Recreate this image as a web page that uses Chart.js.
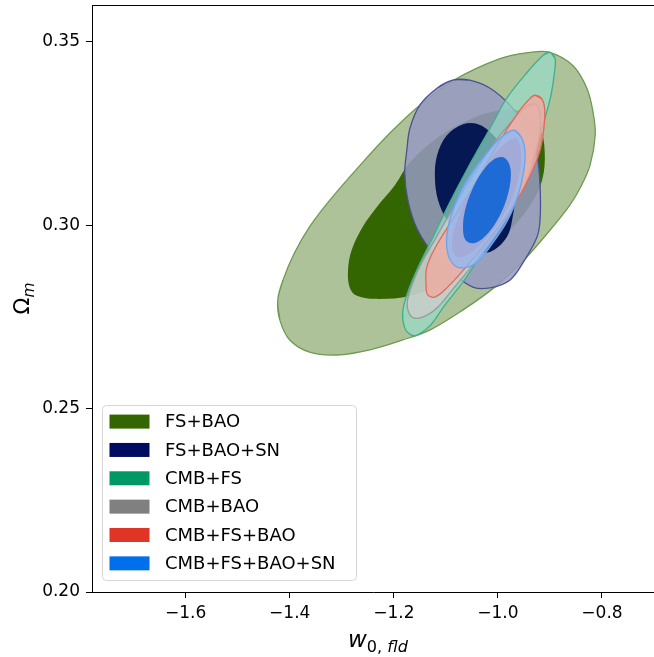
<!DOCTYPE html>
<html>
<head>
<meta charset="utf-8">
<script src="https://cdn.jsdelivr.net/npm/chart.js@4.4.1/dist/chart.umd.min.js"></script>
<style>
  html, body { margin: 0; padding: 0; background: #fff; }
  #wrap { width: 654px; height: 657px; }
</style>
</head>
<body>
<div id="wrap"><canvas id="contours" width="654" height="657"></canvas></div>
<script>
// axis ticks
const xTicks = [-1.6, -1.4, -1.2, -1.0, -0.8];
const yTicks = [0.20, 0.25, 0.30, 0.35];

// legend entries
const names = ['FS+BAO', 'FS+BAO+SN', 'CMB+FS', 'CMB+BAO', 'CMB+FS+BAO', 'CMB+FS+BAO+SN'];
const legendColors = ['#336600', '#000a60', '#009966', '#808080', '#e03424', '#006fed'];

// contour outlines, [w0, Omega_m]
const fsBao95 = [[-1.423,0.2796],[-1.413,0.2850],[-1.391,0.2924],[-1.362,0.2995],[-1.323,0.3068],[-1.265,0.3163],[-1.206,0.3253],[-1.150,0.3327],[-1.085,0.3395],[-0.996,0.3454],[-0.938,0.3471],[-0.900,0.3471],[-0.856,0.3435],[-0.829,0.3373],[-0.817,0.3307],[-0.813,0.3245],[-0.823,0.3163],[-0.842,0.3101],[-0.862,0.3054],[-0.900,0.2986],[-0.955,0.2897],[-1.006,0.2831],[-1.067,0.2769],[-1.131,0.2714],[-1.183,0.2687],[-1.246,0.2660],[-1.310,0.2646],[-1.362,0.2654],[-1.400,0.2687],[-1.419,0.2741]];
const fsBao68 = [[-1.285,0.2831],[-1.288,0.2878],[-1.281,0.2932],[-1.260,0.2995],[-1.233,0.3049],[-1.198,0.3109],[-1.169,0.3171],[-1.112,0.3242],[-1.054,0.3288],[-0.996,0.3313],[-0.948,0.3307],[-0.919,0.3264],[-0.910,0.3199],[-0.915,0.3122],[-0.938,0.3054],[-0.977,0.2986],[-1.035,0.2910],[-1.102,0.2845],[-1.169,0.2807],[-1.237,0.2799],[-1.272,0.2808]];
const fsBaoSn95 = [[-1.087,0.3395],[-1.054,0.3395],[-1.015,0.3373],[-0.977,0.3327],[-0.944,0.3264],[-0.925,0.3190],[-0.919,0.3109],[-0.919,0.3014],[-0.925,0.2967],[-0.952,0.2897],[-0.977,0.2850],[-1.015,0.2829],[-1.048,0.2831],[-1.087,0.2869],[-1.127,0.2927],[-1.156,0.2992],[-1.173,0.3068],[-1.179,0.3141],[-1.175,0.3204],[-1.169,0.3264],[-1.150,0.3327],[-1.117,0.3373]];
const fsBaoSn68 = [[-1.067,0.3275],[-1.038,0.3275],[-1.012,0.3250],[-0.990,0.3210],[-0.975,0.3155],[-0.967,0.3082],[-0.971,0.3027],[-0.983,0.2967],[-1.015,0.2927],[-1.044,0.2932],[-1.073,0.2965],[-1.098,0.3014],[-1.115,0.3068],[-1.121,0.3128],[-1.117,0.3190],[-1.098,0.3245]];
const cmbFs95 = [[-0.900,0.3471],[-0.890,0.3454],[-0.892,0.3408],[-0.898,0.3354],[-0.908,0.3299],[-0.925,0.3218],[-0.944,0.3136],[-0.971,0.3054],[-1.002,0.2981],[-1.035,0.2913],[-1.067,0.2845],[-1.102,0.2782],[-1.129,0.2728],[-1.154,0.2701],[-1.167,0.2701],[-1.179,0.2720],[-1.183,0.2763],[-1.173,0.2818],[-1.154,0.2883],[-1.125,0.2967],[-1.092,0.3063],[-1.058,0.3155],[-1.015,0.3264],[-0.983,0.3346],[-0.944,0.3416],[-0.913,0.3463]];
const cmbBao95 = [[-0.927,0.3329],[-0.919,0.3299],[-0.919,0.3259],[-0.929,0.3190],[-0.948,0.3109],[-0.977,0.3033],[-1.012,0.2959],[-1.050,0.2888],[-1.088,0.2823],[-1.115,0.2777],[-1.140,0.2752],[-1.162,0.2747],[-1.173,0.2769],[-1.173,0.2801],[-1.163,0.2845],[-1.146,0.2899],[-1.119,0.2965],[-1.083,0.3054],[-1.044,0.3144],[-1.006,0.3226],[-0.971,0.3286],[-0.944,0.3324]];
const cmbFsBao95 = [[-0.929,0.3354],[-0.915,0.3343],[-0.910,0.3313],[-0.912,0.3259],[-0.919,0.3204],[-0.933,0.3150],[-0.963,0.3068],[-1.006,0.2981],[-1.058,0.2891],[-1.098,0.2829],[-1.121,0.2804],[-1.135,0.2810],[-1.138,0.2837],[-1.137,0.2883],[-1.121,0.2937],[-1.079,0.3033],[-1.040,0.3122],[-0.996,0.3231],[-0.958,0.3313],[-0.938,0.3346]];
const cmbFsBao68 = [[-0.965,0.3237],[-0.956,0.3204],[-0.958,0.3144],[-0.977,0.3060],[-1.012,0.2981],[-1.050,0.2927],[-1.077,0.2913],[-1.088,0.2940],[-1.083,0.2992],[-1.060,0.3073],[-1.025,0.3158],[-0.992,0.3215]];
const allSn95 = [[-0.971,0.3259],[-0.956,0.3242],[-0.948,0.3204],[-0.950,0.3150],[-0.960,0.3087],[-0.981,0.3014],[-1.010,0.2951],[-1.040,0.2899],[-1.069,0.2883],[-1.088,0.2897],[-1.098,0.2937],[-1.096,0.2992],[-1.083,0.3054],[-1.060,0.3122],[-1.025,0.3190],[-0.996,0.3237]];
const allSn68 = [[-0.990,0.3185],[-0.979,0.3169],[-0.975,0.3136],[-0.981,0.3082],[-0.996,0.3027],[-1.019,0.2978],[-1.044,0.2951],[-1.062,0.2959],[-1.067,0.2992],[-1.063,0.3041],[-1.050,0.3095],[-1.031,0.3144],[-1.010,0.3177]];

// bottom to top
const layers = [
  {pts: fsBao95, fill: 'rgba(51,102,0,0.4)', line: '#6e9a50'},
  {pts: fsBao68, fill: 'rgb(51,102,0)'},
  {pts: fsBaoSn95, fill: 'rgba(150,154,194,0.85)', line: '#4a5290'},
  {pts: fsBaoSn68, fill: 'rgb(6,24,84)'},
  {pts: cmbFs95, fill: 'rgba(150,220,200,0.7)', line: '#3fb08a'},
  {pts: cmbBao95, fill: 'rgba(205,205,205,0.75)', line: '#999999'},
  {pts: cmbFsBao95, fill: 'rgba(240,170,160,0.8)', line: '#e06a5c'},
  {pts: cmbFsBao68, fill: 'rgba(225,120,110,0.9)'},
  {pts: allSn95, fill: 'rgba(140,185,250,0.75)', line: '#6aa4f0'},
  {pts: allSn68, fill: 'rgb(31,107,213)'}
];

// wrap the outline so the spline closes smoothly
function loop(pts) {
  const p = pts.map(d => ({x: d[0], y: d[1]}));
  return [p[p.length - 1], ...p, p[0], p[1]];
}

const FONT = "'DejaVu Sans', sans-serif";

function drawMath(ctx, parts, size) {
  // parts: [text, italic, sub]
  let w = 0;
  const m = parts.map(([t, it, sub]) => {
    const fs = sub ? size * 0.7 : size;
    ctx.font = (it ? 'italic ' : '') + fs + 'px ' + FONT;
    const width = ctx.measureText(t).width;
    w += width;
    return {t, font: ctx.font, width, dy: sub ? size * 0.22 : 0};
  });
  let x = -w / 2;
  m.forEach(p => { ctx.font = p.font; ctx.fillText(p.t, x, p.dy); x += p.width; });
}

const frame = {
  id: 'frame',
  afterDraw(chart) {
    const {ctx, chartArea: a} = chart;
    ctx.save();
    ctx.strokeStyle = '#000';
    ctx.lineWidth = 1;
    ctx.beginPath();
    ctx.moveTo(a.left, a.top + 0.5);
    ctx.lineTo(a.right, a.top + 0.5);
    ctx.stroke();

    ctx.fillStyle = '#000';
    ctx.textBaseline = 'alphabetic';
    ctx.textAlign = 'left';
    ctx.save();
    ctx.translate(378, 647);
    drawMath(ctx, [['w', true, false], ['0, ', false, true], ['fld', true, true]], 23);
    ctx.restore();
    ctx.save();
    ctx.translate(29, (a.top + a.bottom) / 2);
    ctx.rotate(-Math.PI / 2);
    drawMath(ctx, [['\u03a9', false, false], ['m', true, true]], 22);
    ctx.restore();

    // legend
    const L = {x: 102.5, y: 405.5, w: 254, h: 175};
    ctx.beginPath();
    ctx.roundRect(L.x, L.y, L.w, L.h, 4);
    ctx.fillStyle = 'rgba(255,255,255,0.8)';
    ctx.fill();
    ctx.strokeStyle = '#d6d6d6';
    ctx.stroke();
    ctx.font = '18px ' + FONT;
    ctx.textBaseline = 'middle';
    names.forEach((n, i) => {
      const cy = 421.6 + i * 28.35;
      ctx.fillStyle = legendColors[i];
      ctx.fillRect(109.5, cy - 7, 40, 14);
      ctx.fillStyle = '#000';
      ctx.fillText(n, 165, cy + 1);
    });
    ctx.restore();
  }
};

new Chart(document.getElementById('contours'), {
  type: 'scatter',
  data: {
    datasets: layers.map((L, i) => ({
      data: loop(L.pts),
      showLine: true,
      fill: 'shape',
      backgroundColor: L.fill,
      borderColor: L.line || 'rgba(0,0,0,0)',
      borderWidth: L.line ? 1.3 : 0,
      pointRadius: 0,
      tension: 0.35,
      order: layers.length - i
    }))
  },
  options: {
    responsive: false,
    animation: false,
    events: [],
    layout: {padding: {top: 5, right: 0, left: 0, bottom: 0}},
    plugins: {legend: {display: false}, tooltip: {enabled: false}},
    scales: {
      x: {
        type: 'linear', min: -1.78, max: -0.70,
        afterBuildTicks: s => { s.ticks = xTicks.map(v => ({value: v})); },
        afterFit: s => { s.height = 65; s.paddingLeft = 0; s.paddingRight = 0; },
        grid: {drawOnChartArea: false, tickLength: 6, tickColor: '#000', tickWidth: 1},
        border: {color: '#000', width: 1},
        ticks: {color: '#000', padding: 5, maxRotation: 0, font: {family: FONT, size: 17},
                callback: v => v.toFixed(1).replace('-', '\u2212')}
      },
      y: {
        type: 'linear', min: 0.20, max: 0.36,
        afterBuildTicks: s => { s.ticks = yTicks.map(v => ({value: v})); },
        afterFit: s => { s.width = 92; s.paddingTop = 0; s.paddingBottom = 0; },
        grid: {drawOnChartArea: false, tickLength: 6, tickColor: '#000', tickWidth: 1},
        border: {color: '#000', width: 1},
        ticks: {color: '#000', padding: 6, font: {family: FONT, size: 17},
                callback: v => v.toFixed(2)}
      }
    }
  },
  plugins: [frame]
});
</script>
</body>
</html>
